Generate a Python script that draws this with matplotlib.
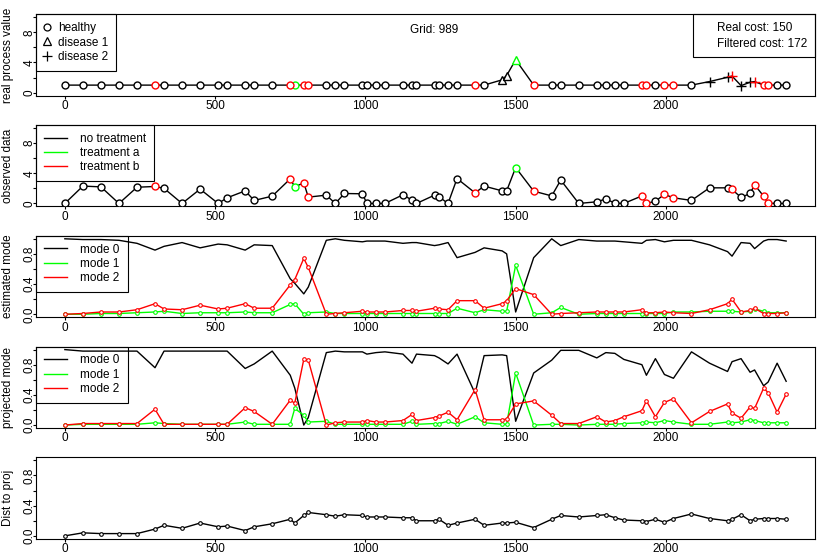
import matplotlib
matplotlib.use('Agg')
import matplotlib.pyplot as plt
from matplotlib.lines import Line2D

plt.rcParams['font.family'] = ['Liberation Sans', 'DejaVu Sans']
FS = 8.5

times = [0, 60, 120, 180, 240, 300, 330, 390, 450, 510,
         540, 600, 630, 690, 750, 765, 795, 810, 870, 900,
         930, 990, 1005, 1035, 1065, 1125, 1155, 1170, 1230, 1245,
         1275, 1305, 1365, 1395, 1455, 1470, 1500, 1560, 1620, 1650,
         1710, 1770, 1800, 1830, 1860, 1920, 1935, 1965, 1995, 2025,
         2085, 2145, 2205, 2220, 2250, 2280, 2295, 2325, 2340, 2370,
         2400]

# 0 = no treatment, 1 = treatment a, 2 = treatment b
treatment = [0, 0, 0, 0, 0, 2, 0, 0, 0, 0,
             0, 0, 0, 0, 2, 1, 2, 2, 0, 0,
             0, 0, 0, 0, 0, 0, 0, 0, 0, 0,
             0, 0, 2, 0, 0, 0, 1, 2, 0, 0,
             0, 0, 0, 0, 0, 2, 2, 0, 2, 2,
             0, 0, 0, 2, 0, 0, 2, 2, 2, 0,
             0]

# 0 = healthy, 1 = disease 1, 2 = disease 2
state = [0, 0, 0, 0, 0, 0, 0, 0, 0, 0,
         0, 0, 0, 0, 0, 0, 0, 0, 0, 0,
         0, 0, 0, 0, 0, 0, 0, 0, 0, 0,
         0, 0, 0, 0, 1, 1, 1, 0, 0, 0,
         0, 0, 0, 0, 0, 0, 0, 0, 0, 0,
         0, 2, 2, 2, 2, 2, 2, 0, 0, 0,
         0]

real_value = [1, 1, 1, 1, 1, 1, 1, 1, 1, 1,
              1, 1, 1, 1, 1, 1, 1, 1, 1, 1,
              1, 1, 1, 1, 1, 1, 1, 1, 1, 1,
              1, 1, 1, 1, 1.7, 2.27, 4.36, 1, 1, 1,
              1, 1, 1, 1, 1, 1, 1, 1, 1, 1,
              1, 1.47, 2.04, 2.2, 0.93, 1.38, 1.47, 1, 1, 1,
              1]

observed = [0, 2.3, 2.2, 0, 2.15, 2.25, 2.0, 0, 1.9, 0,
            0.75, 1.67, 0.4, 0.97, 3.26, 2.2, 2.73, 0.84, 1.1, 0,
            1.32, 1.28, 0, 0, 0, 1.15, 0.44, 0, 1.1, 0.88,
            0, 3.3, 1.4, 2.3, 1.67, 1.67, 4.76, 1.63, 1.0, 3.1,
            0, 0.22, 0.6, 0.04, 0, 1.0, 0, 0.3, 1.2, 0.75,
            0.4, 2.07, 2.07, 1.85, 0.8, 1.32, 2.47, 0.97, 0.04, 0,
            0]

est_mode0 = [1.0, 0.99, 0.99, 0.98, 0.94, 0.85, 0.9, 0.95, 0.88, 0.93,
             0.92, 0.85, 0.92, 0.91, 0.47, 0.41, 0.27, 0.36, 0.98, 1.0,
             0.98, 0.96, 0.97, 0.97, 0.97, 0.94, 0.95, 0.95, 0.91, 0.92,
             0.95, 0.75, 0.82, 0.88, 0.84, 0.8, 0.03, 0.75, 1.0, 0.91,
             0.99, 0.97, 0.97, 0.97, 0.96, 0.94, 0.98, 0.99, 0.96, 0.98,
             0.98, 0.92, 0.83, 0.77, 0.95, 0.94, 0.87, 0.97, 0.99, 0.99,
             0.97]
est_mode1 = [0, 0, 0.01, 0.01, 0.02, 0.03, 0.04, 0.01, 0.02, 0.02,
             0.02, 0.03, 0.02, 0.02, 0.13, 0.14, 0.0, 0.02, 0.03, 0.01,
             0.01, 0.01, 0.01, 0.01, 0.01, 0.01, 0.01, 0.01, 0.01, 0.01,
             0.01, 0.08, 0.02, 0.06, 0.04, 0.04, 0.65, 0.0, 0.02, 0.09,
             0.0, 0.01, 0.01, 0.01, 0.01, 0.01, 0.01, 0.01, 0.01, 0.03,
             0.03, 0.04, 0.04, 0.04, 0.03, 0.04, 0.07, 0.04, 0.02, 0.02,
             0.02]
est_mode2 = [0, 0.01, 0.03, 0.03, 0.06, 0.14, 0.07, 0.06, 0.12, 0.07,
             0.08, 0.14, 0.08, 0.08, 0.39, 0.46, 0.74, 0.62, 0.0, 0.01,
             0.02, 0.04, 0.03, 0.03, 0.03, 0.05, 0.05, 0.04, 0.08, 0.07,
             0.06, 0.18, 0.18, 0.08, 0.14, 0.18, 0.34, 0.26, 0.0, 0.01,
             0.02, 0.03, 0.03, 0.03, 0.03, 0.06, 0.02, 0.02, 0.03, 0.02,
             0.01, 0.06, 0.14, 0.2, 0.03, 0.05, 0.08, 0.01, 0.01, 0.01,
             0.02]

proj_mode0 = [1.0, 0.98, 0.98, 0.98, 0.98, 0.76, 0.98, 0.98, 0.98, 0.98,
              0.98, 0.75, 0.81, 0.98, 0.66, 0.49, 0.0, 0.1, 0.96, 0.98,
              0.97, 0.97, 0.94, 0.96, 0.97, 0.94, 0.82, 0.94, 0.92, 0.89,
              0.81, 0.94, 0.42, 0.92, 0.93, 0.92, 0.05, 0.69, 0.86, 0.99,
              0.99, 0.89, 0.96, 0.95, 0.87, 0.8, 0.66, 0.88, 0.67, 0.62,
              0.97, 0.82, 0.71, 0.84, 0.88, 0.7, 0.73, 0.52, 0.57, 0.82,
              0.58]
proj_mode1 = [0, 0.01, 0.01, 0.01, 0.01, 0.03, 0.02, 0.01, 0.01, 0.01,
              0.01, 0.04, 0.01, 0.01, 0.01, 0.22, 0.13, 0.04, 0.05, 0.01,
              0.01, 0.01, 0.01, 0.01, 0.01, 0.01, 0.05, 0.01, 0.02, 0.02,
              0.05, 0.01, 0.11, 0.03, 0.01, 0.01, 0.69, 0.0, 0.01, 0.01,
              0.0, 0.01, 0.01, 0.01, 0.02, 0.03, 0.04, 0.03, 0.06, 0.04,
              0.01, 0.01, 0.04, 0.03, 0.04, 0.07, 0.06, 0.03, 0.03, 0.03,
              0.03]
proj_mode2 = [0, 0.02, 0.02, 0.02, 0.02, 0.21, 0.01, 0.01, 0.01, 0.01,
              0.01, 0.23, 0.18, 0.01, 0.33, 0.29, 0.87, 0.86, 0.0, 0.03,
              0.04, 0.04, 0.06, 0.04, 0.04, 0.06, 0.14, 0.06, 0.1, 0.12,
              0.17, 0.07, 0.47, 0.07, 0.07, 0.08, 0.28, 0.32, 0.13, 0.02,
              0.02, 0.11, 0.04, 0.06, 0.11, 0.19, 0.32, 0.11, 0.3, 0.35,
              0.03, 0.18, 0.28, 0.16, 0.09, 0.24, 0.22, 0.49, 0.43, 0.17,
              0.41]

dist_to_proj = [0.0, 0.04, 0.03, 0.03, 0.03, 0.09, 0.14, 0.1, 0.17, 0.12,
                0.13, 0.07, 0.12, 0.16, 0.22, 0.17, 0.27, 0.31, 0.28, 0.26,
                0.28, 0.27, 0.25, 0.25, 0.25, 0.24, 0.24, 0.2, 0.2, 0.22,
                0.14, 0.17, 0.22, 0.14, 0.17, 0.17, 0.18, 0.11, 0.22, 0.27,
                0.25, 0.27, 0.28, 0.24, 0.21, 0.2, 0.19, 0.22, 0.18, 0.23,
                0.29, 0.23, 0.2, 0.22, 0.28, 0.2, 0.22, 0.23, 0.23, 0.23,
                0.22]

state_labels = ['healthy', 'disease 1', 'disease 2']
treatment_labels = ['no treatment', 'treatment a', 'treatment b']
mode_labels = ['mode 0', 'mode 1', 'mode 2']
grid_text = 'Grid: 989'
cost_labels = ['Real cost: 150', 'Filtered cost: 172']

GREEN = '#00ff00'
RED = '#ff0000'
tcol = {0: 'black', 1: GREEN, 2: RED}
smark = {0: 'o', 1: '^', 2: '+'}
smsize = {0: 5.0, 1: 5.6, 2: 7.0}

fig = plt.figure(figsize=(8.3, 5.54), dpi=100)
left, width, height = 36 / 830, 779 / 830, 81.5 / 554
bottoms = [0.8273, 0.6273, 0.4273, 0.2273, 0.0273]
axes = [fig.add_axes([left, b, width, height]) for b in bottoms]


def style(ax, yticks, ylabels, ylim, ylabel):
    ax.set_xlim(-96, 2496)
    ax.set_ylim(*ylim)
    ax.set_xticks([0, 500, 1000, 1500, 2000])
    ax.set_xticklabels(['0', '500', '1000', '1500', '2000'])
    ax.set_yticks(yticks)
    ax.set_yticklabels(ylabels, rotation=90, va='center')
    ax.tick_params(axis='x', labelsize=FS, length=2.2, width=0.8, pad=0.9)
    ax.tick_params(axis='y', labelsize=FS, length=2.0, width=0.8, pad=-1.6)
    for s in ax.spines.values():
        s.set_linewidth(0.8)
    ax.set_ylabel(ylabel, fontsize=FS)
    ax.yaxis.set_label_coords(-0.0282, 0.5)


def legend(ax, handles, labels, loc, anchor, hl, htp, ls=0.2, bp=0.66):
    leg = ax.legend(handles, labels, loc=loc, bbox_to_anchor=anchor,
                    borderaxespad=0, fontsize=FS, frameon=True, fancybox=False,
                    edgecolor='black', handlelength=hl, handletextpad=htp,
                    borderpad=bp, labelspacing=ls, framealpha=1)
    leg.get_frame().set_linewidth(0.8)
    leg.get_frame().set_facecolor('none')
    return leg


big_ticks = [0, 2, 4, 6, 8, 10]
big_labels = ['0', '', '4', '', '8', '']
small_ticks = [0, 0.2, 0.4, 0.6, 0.8, 1.0]
small_labels = ['0.0', '', '0.4', '', '0.8', '']

# Panel 1: real process value
ax = axes[0]
ax.plot(times, real_value, color='black', lw=1.0, zorder=2)
for s in (0, 1, 2):
    for t in (0, 1, 2):
        xs = [x for x, ss, tt in zip(times, state, treatment) if ss == s and tt == t]
        ys = [y for y, ss, tt in zip(real_value, state, treatment) if ss == s and tt == t]
        if xs:
            ax.plot(xs, ys, linestyle='none', marker=smark[s], ms=smsize[s],
                    mec=tcol[t], mfc='white', mew=1.0, zorder=3)
style(ax, big_ticks, big_labels, (-0.4, 10.4), 'real process value')
ax.text(0.511, 0.808, grid_text, transform=ax.transAxes, ha='center',
        va='center', fontsize=FS)
h1 = [Line2D([], [], ls='none', marker=smark[s], ms=smsize[s], mec='black',
             mfc='none', mew=0.9) for s in (0, 1, 2)]
l1 = legend(ax, h1, state_labels, 'upper left', (0, 1), 0.61, 0.63, ls=0.22)
ax.add_artist(l1)
h1b = [Line2D([], [], ls='none') for _ in cost_labels]
legend(ax, h1b, cost_labels, 'upper right', (1, 1), 0.8, 0.55, ls=0.3)

# Panel 2: observed data
ax = axes[1]
ax.plot(times, observed, color='black', lw=1.0, zorder=2)
for t in (0, 1, 2):
    xs = [x for x, tt in zip(times, treatment) if tt == t]
    ys = [y for y, tt in zip(observed, treatment) if tt == t]
    ax.plot(xs, ys, linestyle='none', marker='o', ms=5.0, mec=tcol[t],
            mfc='white', mew=1.0, zorder=3)
style(ax, big_ticks, big_labels, (-0.4, 10.4), 'observed data')
h2 = [Line2D([], [], color=tcol[t], lw=1.0) for t in (0, 1, 2)]
legend(ax, h2, treatment_labels, 'upper left', (0, 1), 1.97, 1.13)


def mode_panel(ax, m0, m1, m2, ylabel):
    ax.plot(times, m0, color='black', lw=1.0, zorder=2)
    ax.plot(times, m1, color=GREEN, lw=1.0, marker='o', ms=2.6, mfc='white',
            mec=GREEN, mew=0.8, zorder=3)
    ax.plot(times, m2, color=RED, lw=1.0, marker='o', ms=2.6, mfc='white',
            mec=RED, mew=0.8, zorder=4)
    style(ax, small_ticks, small_labels, (-0.04, 1.04), ylabel)
    h = [Line2D([], [], color=c, lw=1.0) for c in ('black', GREEN, RED)]
    legend(ax, h, mode_labels, 'upper left', (0, 1), 1.97, 1.13)


mode_panel(axes[2], est_mode0, est_mode1, est_mode2, 'estimated mode')
mode_panel(axes[3], proj_mode0, proj_mode1, proj_mode2, 'projected mode')

# Panel 5: distance to projection
ax = axes[4]
ax.plot(times, dist_to_proj, color='black', lw=1.0, marker='o', ms=2.6,
        mfc='white', mec='black', mew=0.8)
style(ax, small_ticks, small_labels, (-0.04, 1.04), 'Dist to proj')

fig.savefig('out.png', dpi=100)
